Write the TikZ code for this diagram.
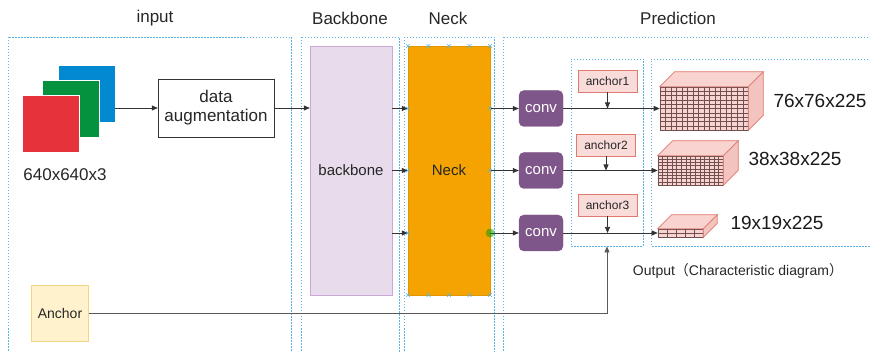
\documentclass[tikz,border=0pt]{standalone}
\usepackage{fontspec}
\setmainfont{Liberation Sans}
\newfontfamily\cjk{Noto Sans CJK SC}
\usetikzlibrary{arrows.meta, calc, shapes.misc}

\definecolor{dotblue}{HTML}{5AB4E5}
\definecolor{sqblue}{HTML}{0389CF}
\definecolor{sqgreen}{HTML}{05923F}
\definecolor{sqred}{HTML}{E5323B}
\definecolor{bbfill}{HTML}{E8DCEC}
\definecolor{bbline}{HTML}{CCA8D4}
\definecolor{neckfill}{HTML}{F5A300}
\definecolor{convfill}{HTML}{7F5689}
\definecolor{pinkfill}{HTML}{F8D3D0}
\definecolor{pinkside}{HTML}{F2C3BF}
\definecolor{pinkline}{HTML}{E07A6E}
\definecolor{gridline}{HTML}{6E5050}
\definecolor{ancfill}{HTML}{FFF2CC}
\definecolor{ancline}{HTML}{F3D482}

\tikzset{
	group/.style={draw=dotblue, dash pattern=on 1.5pt off 1.5pt, line width=0.8pt},
	title/.style={font=\fontsize{17}{20}\selectfont, text=black!85},
	box/.style={draw, inner sep=0pt, align=center, text=black!85, font=\fontsize{15}{17}\selectfont},
	sq/.style={minimum size=57pt, inner sep=0pt, draw=white, line width=0.4pt},
	conv/.style={box, draw=convfill, fill=convfill, rounded corners=5pt, text=white,
		minimum width=44pt, minimum height=36pt},
	anc/.style={box, draw=pinkline, fill=pinkfill!80, minimum width=59pt, minimum height=22pt,
		font=\fontsize{12}{14}\selectfont},
	front/.style={draw=gridline, fill=pinkfill, inner sep=0pt, line width=0.6pt},
	dim/.style={anchor=west, text=black!90, font=\fontsize{19}{22}\selectfont},
	arr/.style={-{Triangle[length=6pt,width=5pt]}, line width=0.7pt, black!80},
	selmark/.style={cross out, draw=dotblue, minimum size=3pt, inner sep=0pt, line width=0.6pt},
}

% feature map block: front node, depth, columns, rows
\newcommand{\featmap}[4]{%
	\draw[pinkline, fill=pinkfill, line width=0.7pt] (#1.north west) -- ++(#2,-#2)
		-- ($(#1.north east)+(#2,-#2)$) -- (#1.north east) -- cycle;
	\draw[pinkline, fill=pinkside, line width=0.7pt] (#1.north east) -- ++(#2,-#2)
		-- ($(#1.south east)+(#2,-#2)$) -- (#1.south east) -- cycle;
	\foreach \k [evaluate=\k as \f using \k/(#3+1)] in {1,...,#3}
		\draw[gridline, line width=0.5pt] ($(#1.north west)!\f!(#1.north east)$) -- ($(#1.south west)!\f!(#1.south east)$);
	\foreach \k [evaluate=\k as \f using \k/(#4+1)] in {1,...,#4}
		\draw[gridline, line width=0.5pt] ($(#1.north west)!\f!(#1.south west)$) -- ($(#1.north east)!\f!(#1.south east)$);
}

\begin{document}
\begin{tikzpicture}[x=1pt, y=-1pt]
	\path[use as bounding box] (0,0) rectangle (870,352);
	\clip (0,0) rectangle (870,352);

	% stage frames, open at the bottom
	\draw[group] (8,37) rectangle (291,360);
	\draw[group] (301,37) rectangle (399,360);
	\draw[group] (404,37) rectangle (494,360);
	\draw[group] (503,37) rectangle (880,360);
	\node[title] (t-input) at (155,18) {input};
	\node[title] (t-bb) at (350,18) {Backbone};
	\node[title] (t-neck) at (448,18) {Neck};
	\node[title] (t-pred) at (678,18) {Prediction};

	% input image
	\node[sq, fill=sqblue] (blue) at (86.5,94) {};
	\node[sq, fill=sqgreen] (green) at (71,108.5) {};
	\node[sq, fill=sqred] (red) at (51,124) {};
	\node[box, draw=none, font=\fontsize{17}{20}\selectfont] (imgsize) at (65,175) {640x640x3};
	\node[box, draw=black!80, minimum width=116pt, minimum height=58pt,
		font=\fontsize{17}{19}\selectfont] (aug) at (216,108) {data\\augmentation};
	\draw[arr] (aug.west -| blue.east) -- (aug.west);

	\node[box, draw=bbline, fill=bbfill, minimum width=82pt, minimum height=249pt] (bb) at (351,170.5) {backbone};
	\node[box, draw=neckfill!92!black, fill=neckfill, minimum width=82pt, minimum height=249pt] (neck) at (449,170.5) {Neck};
	\draw[arr] (aug.east) -- (aug.east -| bb.west);

	% prediction heads
	\node[group, minimum width=72pt, minimum height=187pt, inner sep=0pt] (agrp) at (607,152.5) {};
	\draw[group] (880,59) -| (651,246) -- (880,246);
	\node[conv] (c1) at (541,108.5) {conv};
	\node[conv] (c2) at (541,170.5) {conv};
	\node[conv] (c3) at (541,233) {conv};
	\node[anc] (a1) at (607.5,81) {anchor1};
	\node[anc] (a2) at (606,145) {anchor2};
	\node[anc] (a3) at (607.5,205) {anchor3};
	\node[front, minimum width=88pt, minimum height=43pt] (f1) at (704,108.5) {};
	\node[front, minimum width=65pt, minimum height=29pt] (f2) at (690.5,170.5) {};
	\node[front, minimum width=45pt, minimum height=8pt] (f3) at (680.5,233) {};
	\featmap{f1}{15}{15}{9}
	\featmap{f2}{15}{13}{8}
	\featmap{f3}{14}{4}{1}
	\node[dim] (d1) at (770,101) {76x76x225};
	\node[dim] (d2) at (745,159) {38x38x225};
	\node[dim] (d3) at (727,223) {19x19x225};
	\foreach \i in {1,2,3} {
		\draw[arr] (bb.east |- c\i) -- (neck.west |- c\i);
		\draw[arr] (neck.east |- c\i) -- (c\i.west);
		\draw[arr] (c\i.east) -- (f\i.west);
		\draw[arr] (a\i.south) -- (a\i.south |- c\i);
	}
	\node[font=\fontsize{14}{16}\selectfont, text=black!85] (outlab) at (738,271)
		{Output{\cjk （}Characteristic diagram{\cjk ）}};

	\node[box, draw=ancline, fill=ancfill, minimum width=57pt, minimum height=56pt,
		font=\fontsize{14}{16}\selectfont] (anc) at (60,313) {Anchor};
	\draw[arr, black!65] (anc.east) -| (agrp.south);

	% selection handles on the neck block
	\foreach \x in {408,428.5,449,469.5,490} {
		\node[selmark] at (\x,46) {};
		\node[selmark] at (\x,295) {};
	}
	\foreach \i in {1,2,3}
		\node[selmark] at (neck.west |- c\i) {};
	\node[selmark] at (neck.east |- c1) {};
	\node[selmark] at (neck.east |- c2) {};
	\fill[green!60!black, opacity=0.5] (neck.east |- c3) circle (4.5);
\end{tikzpicture}
\end{document}
